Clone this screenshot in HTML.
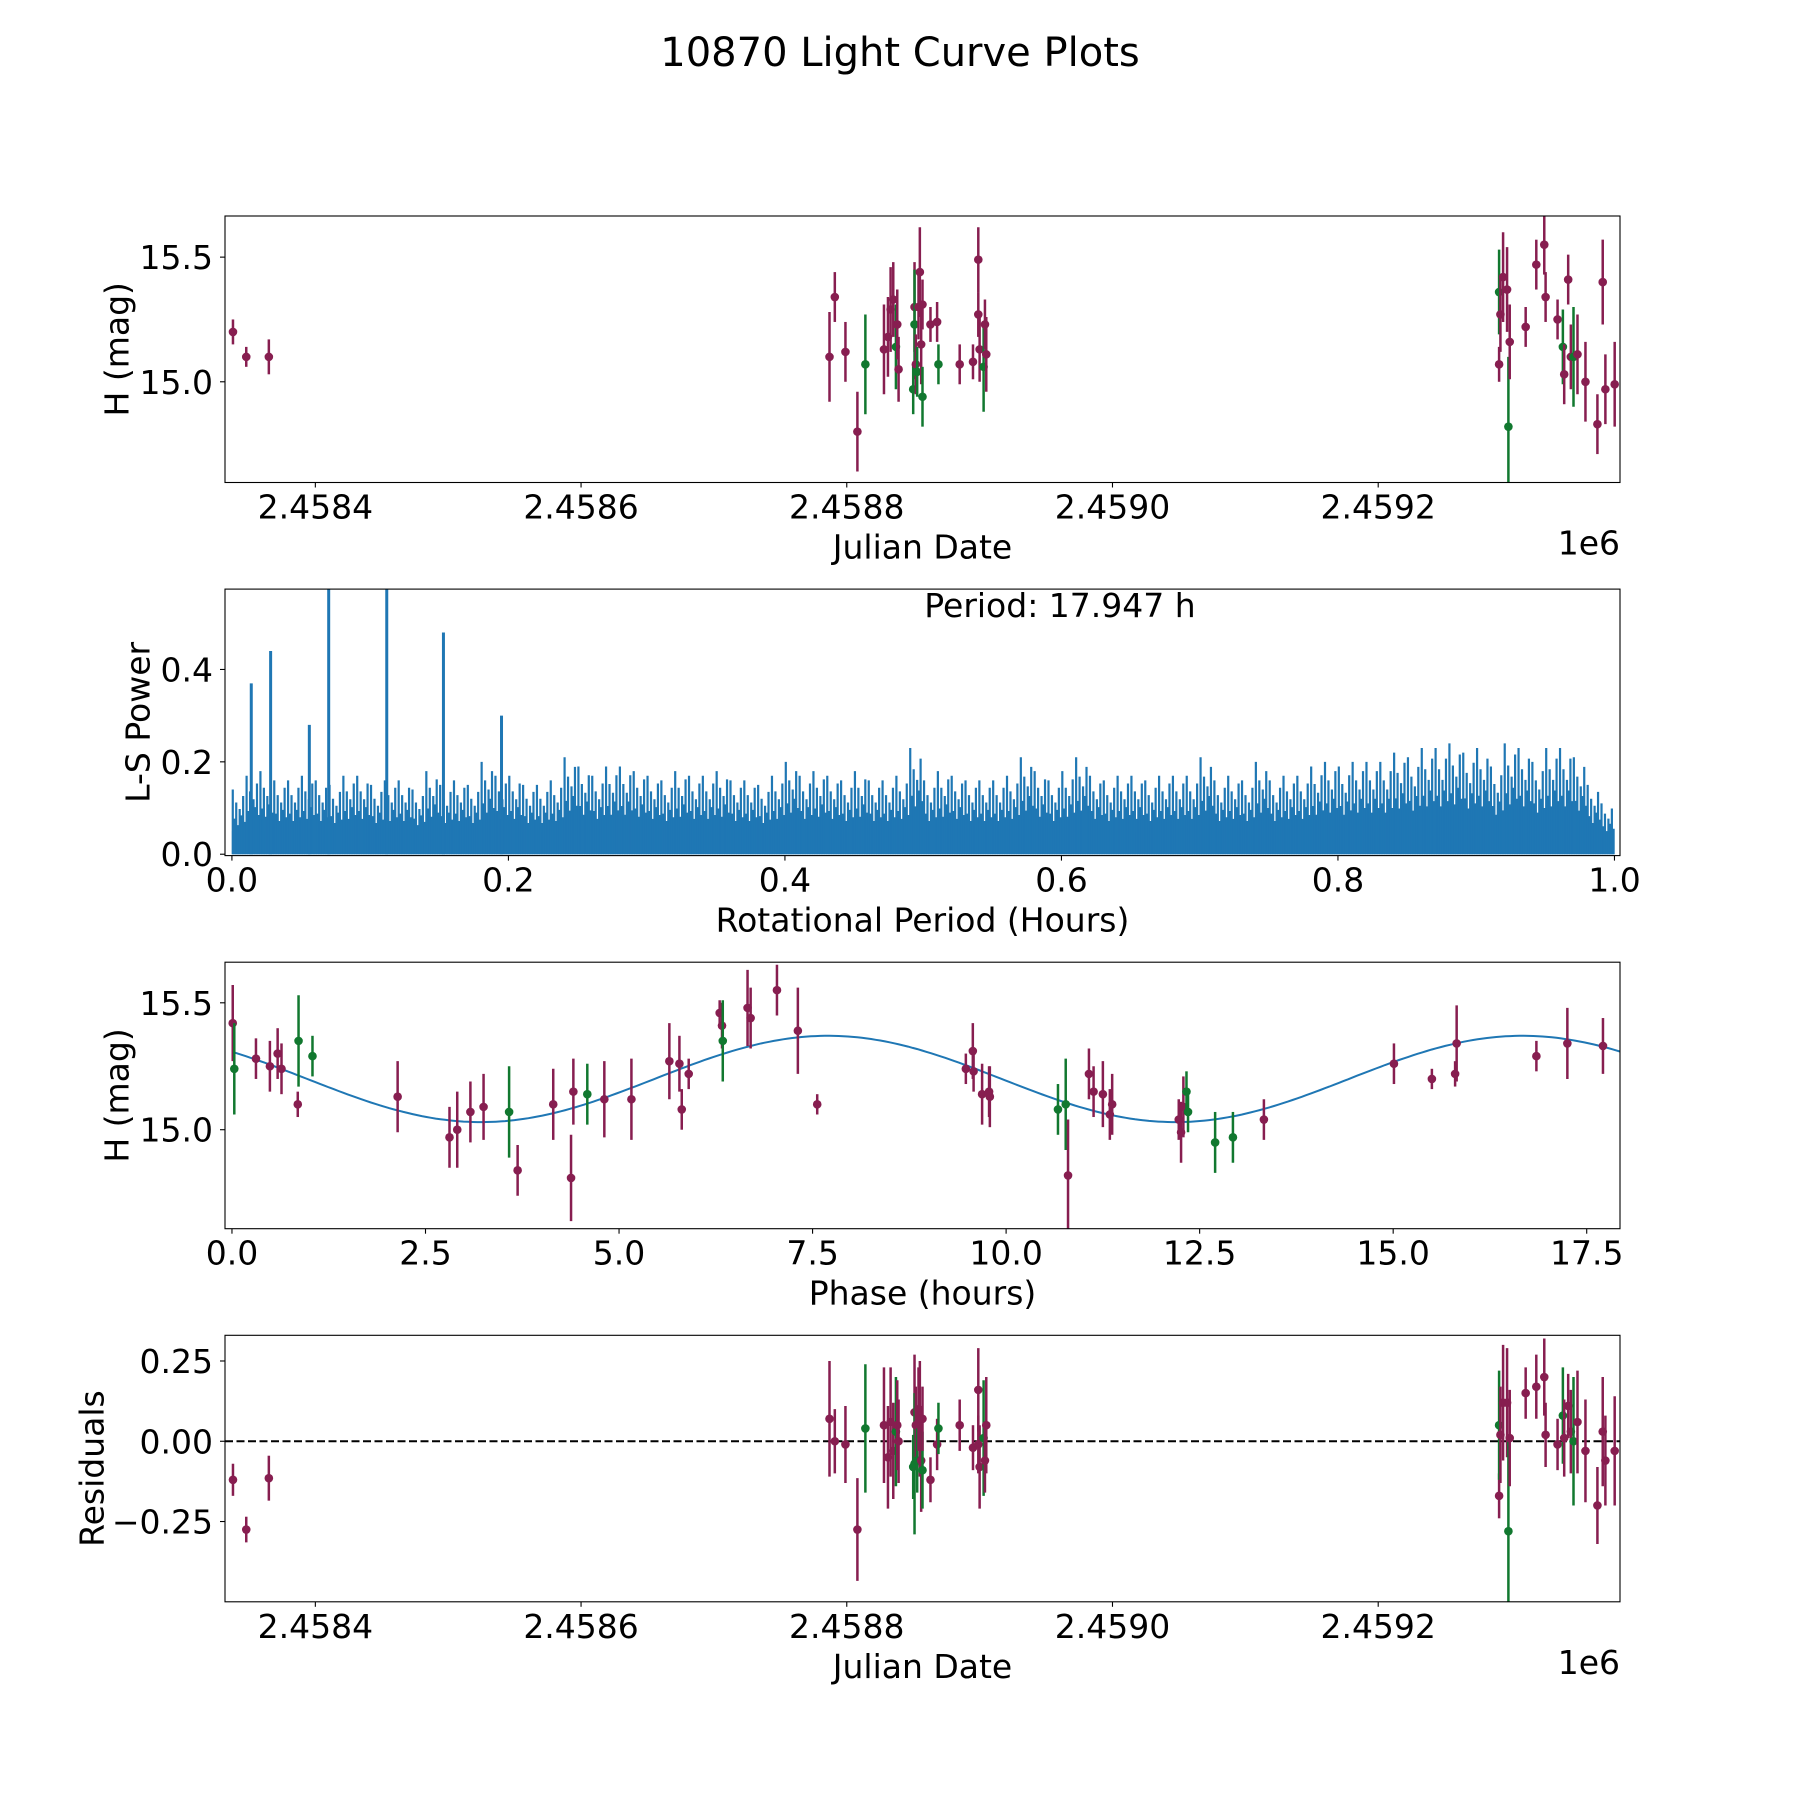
<!DOCTYPE html>
<html><head><meta charset="utf-8"><style>
html,body{margin:0;padding:0;background:#fff}
svg{display:block;font-family:"DejaVu Sans","Liberation Sans",sans-serif}
</style></head><body>
<svg id="fig" width="1800" height="1800" viewBox="0 0 1800 1800" xmlns="http://www.w3.org/2000/svg">
<rect width="1800" height="1800" fill="#fff"/>
<text x="900" y="66" font-size="40" text-anchor="middle">10870 Light Curve Plots</text>
<g id="p1"></g>
<g id="p2"></g>
<g id="p3"></g>
<g id="p4"></g>
</svg>
<script>
// ---------- data ----------
const jd = [2458338,2458348,2458365,
2458787,2458791,2458799,2458808,2458814,2458828,2458831,2458833,2458835,2458837,2458838,2458839,2458850,2458851,2458851,2458852,2458853,2458854,2458855,2458856,2458857,2458857,2458863,2458868,2458869,2458885,2458895,2458899,2458899,2458900,2458903,2458904,2458905,
2459291,2459291,2459292,2459294,2459297,2459298,2459299,2459311,2459319,2459325,2459326,2459335,2459339,2459340,2459343,2459345,2459347,2459350,2459356,2459365,2459369,2459371,2459378];
const mag = [15.20,15.10,15.10,
15.10,15.34,15.12,14.80,15.07,15.13,15.18,15.29,15.33,15.14,15.23,15.05,14.97,15.30,15.23,15.07,15.04,15.30,15.44,15.15,14.94,15.31,15.23,15.24,15.07,15.07,15.08,15.49,15.27,15.13,15.06,15.23,15.11,
15.07,15.36,15.27,15.42,15.37,14.82,15.16,15.22,15.47,15.55,15.34,15.25,15.14,15.03,15.41,15.10,15.10,15.11,15.00,14.83,15.40,14.97,14.99];
const magErr = [0.05,0.04,0.07,
0.18,0.10,0.12,0.16,0.20,0.18,0.16,0.17,0.15,0.17,0.14,0.13,0.10,0.18,0.22,0.12,0.10,0.13,0.18,0.16,0.12,0.10,0.07,0.08,0.08,0.08,0.07,0.13,0.09,0.13,0.18,0.10,0.15,
0.07,0.17,0.15,0.18,0.17,0.28,0.15,0.08,0.10,0.12,0.10,0.08,0.15,0.12,0.10,0.13,0.20,0.16,0.16,0.12,0.17,0.14,0.17];
const residual = [-0.12,-0.275,-0.115,
0.07,0.00,-0.01,-0.275,0.04,0.05,-0.05,0.06,-0.03,0.03,0.05,0.00,-0.08,0.09,-0.07,0.05,-0.06,0.10,0.07,-0.06,-0.09,0.07,-0.12,-0.01,0.04,0.05,-0.02,0.16,-0.01,-0.08,0.01,-0.06,0.05,
-0.17,0.05,0.02,0.12,0.12,-0.28,0.01,0.15,0.17,0.20,0.02,-0.01,0.08,0.01,0.11,0.03,0.00,0.06,-0.03,-0.20,0.03,-0.06,-0.03];
const filt = "mmm"+"mmmmgmmmmgmmgmgmgmmmgmmmgmmmmmgmm"+"mgmmmgmmmmmmgmmmgmmmmmm";

const phase = [0.01,0.03,0.31,0.49,0.59,0.64,0.85,0.86,1.04,2.14,2.81,2.91,3.08,3.25,3.58,3.69,4.15,4.38,4.41,4.59,4.81,5.16,5.65,5.78,5.81,5.90,6.30,6.33,6.34,6.66,6.70,7.04,7.31,7.56,9.48,9.57,9.58,9.69,9.78,9.79,10.67,10.77,10.80,11.07,11.13,11.25,11.34,11.37,12.23,12.26,12.29,12.33,12.35,12.70,12.93,13.33,15.01,15.50,15.80,15.82,16.85,17.25,17.71];
const phaseMag = [15.42,15.24,15.28,15.25,15.30,15.24,15.10,15.35,15.29,15.13,14.97,15.00,15.07,15.09,15.07,14.84,15.10,14.81,15.15,15.14,15.12,15.12,15.27,15.26,15.08,15.22,15.46,15.41,15.35,15.48,15.44,15.55,15.39,15.10,15.24,15.31,15.23,15.14,15.15,15.13,15.08,15.10,14.82,15.22,15.15,15.14,15.06,15.10,15.04,14.99,15.09,15.15,15.07,14.95,14.97,15.04,15.26,15.20,15.22,15.34,15.29,15.34,15.33];
const phaseErr = [0.15,0.18,0.08,0.10,0.10,0.10,0.05,0.18,0.08,0.14,0.12,0.15,0.12,0.13,0.18,0.10,0.14,0.17,0.13,0.12,0.15,0.16,0.15,0.11,0.08,0.06,0.05,0.09,0.16,0.15,0.12,0.10,0.17,0.04,0.06,0.11,0.08,0.12,0.10,0.12,0.10,0.18,0.22,0.10,0.10,0.13,0.10,0.12,0.08,0.12,0.12,0.08,0.08,0.12,0.10,0.08,0.08,0.04,0.05,0.15,0.06,0.14,0.11];
const phaseFilt = "mgmmmmmggmmmmmgmmmmgmmmmmmmmgmmmmmmmmmmmggmmmmmmmmmgggg"+"mmmmmmm";

const fitMean = [15.20], fitAmp = [0.17], fitPeriod = [8.97], fitPeak = [7.7];
const periodLabel = "Period: 17.947 h";

const lsEnvelope = [0.14,0.17,0.18,0.16,0.16,0.17,0.16,0.15,0.17,0.17,
0.15,0.16,0.16,0.14,0.18,0.15,0.16,0.15,0.20,0.17,
0.17,0.15,0.15,0.16,0.21,0.19,0.17,0.19,0.19,0.18,
0.17,0.16,0.18,0.17,0.17,0.18,0.16,0.16,0.15,0.17,
0.20,0.17,0.18,0.17,0.16,0.18,0.16,0.16,0.17,0.23,
0.16,0.18,0.17,0.16,0.16,0.16,0.17,0.21,0.18,0.16,
0.18,0.21,0.17,0.16,0.17,0.17,0.16,0.17,0.17,0.17,
0.21,0.16,0.17,0.16,0.20,0.16,0.17,0.17,0.19,0.20,
0.19,0.20,0.20,0.20,0.22,0.21,0.23,0.23,0.24,0.22,
0.23,0.19,0.24,0.23,0.20,0.23,0.23,0.21,0.15,0.11];
const lsPeakPos = [0.014,0.028,0.056,0.070,0.112,0.153,0.195];
const lsPeakVal = [0.37,0.44,0.28,0.58,0.58,0.48,0.30];

const jdTicks = [2458400,2458600,2458800,2459000,2459200];
const jdTickLabels = ["2.4584","2.4586","2.4588","2.4590","2.4592"];
const magTicks = [15.0,15.5], magTickLabels = ["15.0","15.5"];
const lsXTicks = [0,0.2,0.4,0.6,0.8,1.0], lsXLabels = ["0.0","0.2","0.4","0.6","0.8","1.0"];
const lsYTicks = [0,0.2,0.4], lsYLabels = ["0.0","0.2","0.4"];
const phTicks = [0,2.5,5,7.5,10,12.5,15,17.5], phLabels = ["0.0","2.5","5.0","7.5","10.0","12.5","15.0","17.5"];
const resTicks = [-0.25,0,0.25], resLabels = ["\u22120.25","0.00","0.25"];

// ---------- layout ----------
const NS="http://www.w3.org/2000/svg";
const L=225,R=1620,H=266.5,TOPS=[216,589.1,962.2,1335.3];
const MAROON="#871e50",GREEN="#11782f",BLUE="#1f77b4";
function mk(tag,parent,attrs){const e=document.createElementNS(NS,tag);for(const k in attrs)e.setAttribute(k,attrs[k]);parent.appendChild(e);return e;}
function lin(d0,d1,p0,p1){return v=>p0+(v-d0)*(p1-p0)/(d1-d0);}

function axes(g,top,xs,ys,xt,xl,yt,yl,xlabel,ylabel,ylabelX,offset){
  const b=top+H;
  xt.forEach((t,i)=>{const x=xs(t);
    const tk=mk('line',g,{x1:x,x2:x,y1:b,y2:b+5,stroke:'#000','stroke-width':1.1});
    
    
    const tx=mk('text',g,{x:x,y:b+36,'font-size':33,'text-anchor':'middle'});tx.textContent=xl[i];
    
    });
  yt.forEach((t,i)=>{const y=ys(t);
    const tk=mk('line',g,{x1:L-5,x2:L,y1:y,y2:y,stroke:'#000','stroke-width':1.1});
    
    
    const tx=mk('text',g,{x:L-12,y:y+12,'font-size':33,'text-anchor':'end'});tx.textContent=yl[i];
    
    });
  const xlb=mk('text',g,{x:(L+R)/2,y:b+76,'font-size':33,'text-anchor':'middle'});xlb.textContent=xlabel;
  
  
  const cy=top+H/2;
  const ylb=mk('text',g,{x:ylabelX,y:cy,'font-size':33,'text-anchor':'middle',transform:`rotate(-90 ${ylabelX} ${cy})`,'dominant-baseline':'central'});ylb.textContent=ylabel;
  
  
  if(offset){const o=mk('text',g,{x:R,y:b+72,'font-size':33,'text-anchor':'end'});o.textContent=offset;
    
    }
  const fr=mk('rect',g,{x:L,y:top,width:R-L,height:H,fill:'none',stroke:'#000','stroke-width':1.1});
  
  
}
function clip(id,top){const d=mk('clipPath',document.getElementById('fig'),{id:id});mk('rect',d,{x:L,y:top,width:R-L,height:H});}

function errPoints(g,xs,ys,xv,yv,ev,fl,name){
  xv.forEach((xx,i)=>{const c=fl[i]==='g'?GREEN:MAROON;const x=xs(xx);
    const e=mk('line',g,{x1:x,x2:x,y1:ys(yv[i]-ev[i]),y2:ys(yv[i]+ev[i]),stroke:c,'stroke-width':2.5});
    
    
    const p=mk('circle',g,{cx:x,cy:ys(yv[i]),r:4.3,fill:c});
    
    });
}

const JDMIN=2458332, JDMAX=2459382;

// panel 1
{const top=TOPS[0],g=document.getElementById('p1');
 const xs=lin(JDMIN,JDMAX,L,R), ys=lin(14.596,15.665,top+H,top);
 clip('c1',top);const d=mk('g',g,{'clip-path':'url(#c1)'});
 errPoints(d,xs,ys,jd,mag,magErr,filt,'magnitude');
 axes(g,top,xs,ys,jdTicks,jdTickLabels,magTicks,magTickLabels,'Julian Date','H (mag)',117,'1e6');}

// panel 2
{const top=TOPS[1],g=document.getElementById('p2');
 const xs=lin(-0.005,1.004,L,R), ys=lin(-0.003,0.574,top+H,top);
 clip('c2',top);const d=mk('g',g,{'clip-path':'url(#c2)'});
 const n=lsEnvelope.length, w=(xs(1)-xs(0))/n;
 const base=mk('rect',d,{x:xs(0),y:ys(0.05),width:xs(1)-xs(0),height:ys(0)-ys(0.05),fill:BLUE});
 
 
 const fr=[1,0.55,0.8,0.45,0.7,0.6,0.9,0.5];
 lsEnvelope.forEach((v,i)=>{
   fr.forEach((f,k)=>{const x=xs(i/n)+w*(k+0.5)/fr.length;
     const l=mk('line',d,{x1:x,x2:x,y1:ys(0),y2:ys(v*f),stroke:BLUE,'stroke-width':2.2});
     
     });
 });
 lsPeakPos.forEach((p,i)=>{const x=xs(p);
   const l=mk('line',d,{x1:x,x2:x,y1:ys(0),y2:ys(lsPeakVal[i]),stroke:BLUE,'stroke-width':3});
   
   });
 const t=mk('text',g,{x:1060,y:617,'font-size':33,'text-anchor':'middle'});t.textContent=periodLabel;
 
 
 axes(g,top,xs,ys,lsXTicks,lsXLabels,lsYTicks,lsYLabels,'Rotational Period (Hours)','L-S Power',138,null);}

// panel 3
{const top=TOPS[2],g=document.getElementById('p3');
 const xs=lin(-0.09,17.93,L,R), ys=lin(14.61,15.66,top+H,top);
 clip('c3',top);const d=mk('g',g,{'clip-path':'url(#c3)'});
 let pts=[];for(let i=0;i<=300;i++){const x=i*17.947/300;
   const y=fitMean[0]+fitAmp[0]*Math.cos(2*Math.PI*(x-fitPeak[0])/fitPeriod[0]);pts.push(xs(x).toFixed(1)+','+ys(y).toFixed(1));}
 const pl=mk('polyline',d,{points:pts.join(' '),fill:'none',stroke:BLUE,'stroke-width':2});
 
 
 errPoints(d,xs,ys,phase,phaseMag,phaseErr,phaseFilt,'phase');
 axes(g,top,xs,ys,phTicks,phLabels,magTicks,magTickLabels,'Phase (hours)','H (mag)',117,null);}

// panel 4
{const top=TOPS[3],g=document.getElementById('p4');
 const xs=lin(JDMIN,JDMAX,L,R), ys=lin(-0.50,0.33,top+H,top);
 clip('c4',top);const d=mk('g',g,{'clip-path':'url(#c4)'});
 const z=mk('line',d,{x1:L,x2:R,y1:ys(0),y2:ys(0),stroke:'#000','stroke-width':2,'stroke-dasharray':'8 3.5'});
 
 
 errPoints(d,xs,ys,jd,residual,magErr,filt,'residual');
 axes(g,top,xs,ys,jdTicks,jdTickLabels,resTicks,resLabels,'Julian Date','Residuals',92,'1e6');}
</script>
</body></html>
